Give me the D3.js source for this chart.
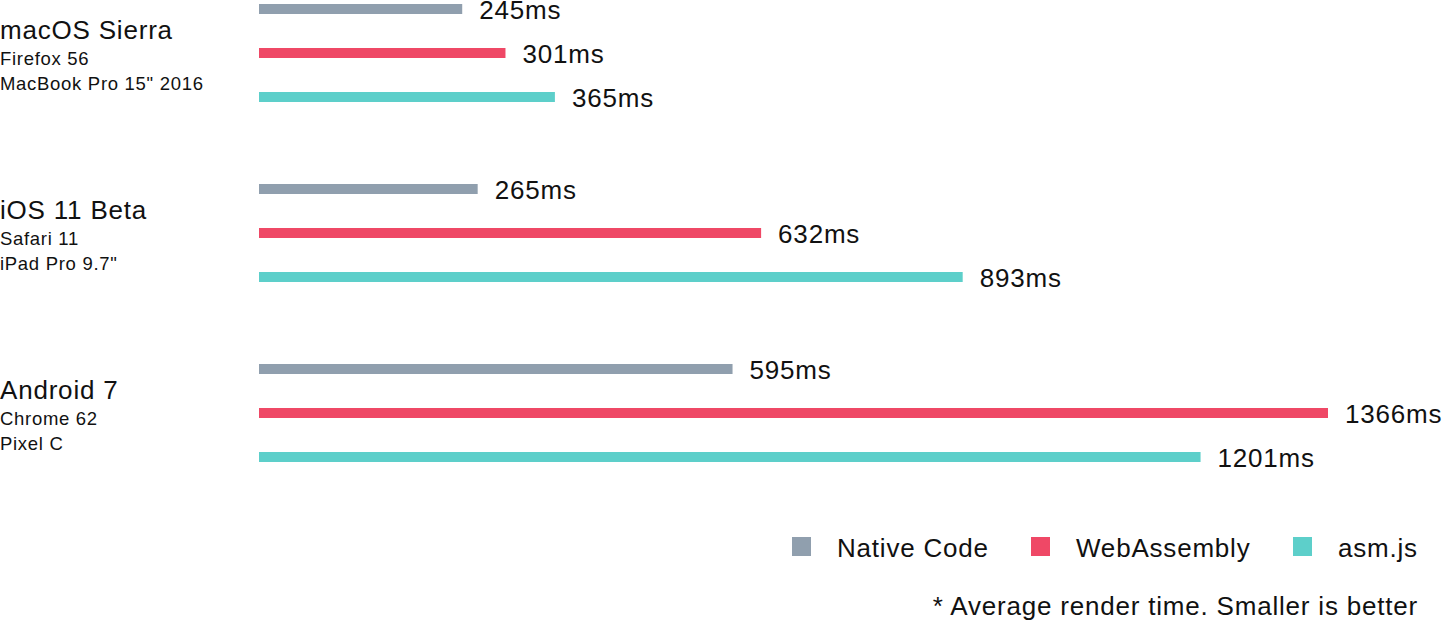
<!DOCTYPE html>
<html>
<head>
<meta charset="utf-8">
<script src="https://cdn.jsdelivr.net/npm/d3@7"></script>
<style>
  html, body { margin: 0; padding: 0; background: #fff; }
  svg text { font-family: "Liberation Sans", Arial, Helvetica, sans-serif; fill: #111; }
  .big { font-size: 26px; letter-spacing: 0.8px; }
  .detail { font-size: 18.5px; letter-spacing: 0.7px; }
</style>
</head>
<body>
<div id="chart"></div>
<script>
// Donnees
const platforms = ["macOS Sierra", "iOS 11 Beta", "Android 7"];
const platformDetails = [
    ["Firefox 56", "MacBook Pro 15\" 2016"],
    ["Safari 11", "iPad Pro 9.7\""],
    ["Chrome 62", "Pixel C"]
];
const seriesNames = ["Native Code", "WebAssembly", "asm.js"];
const seriesColors = ["#909fae", "#ef4866", "#5dcfca"];
const nativeValues = [245, 265, 595];
const wasmValues = [301, 632, 1366];
const asmValues = [365, 893, 1201];
const footnote = "* Average render time. Smaller is better";

(function() {
    const width = 1454;
    const height = 624;
    const barHeight = 10;
    const barLead = 14; // la barre commence un peu avant le zero

    const values = [nativeValues, wasmValues, asmValues];

    const svg = d3.select("#chart")
        .append("svg")
        .attr("width", width)
        .attr("height", height);

    // Echelles
    const x = d3.scaleLinear()
        .domain([0, d3.max(values.flat())])
        .range([273, 1328]);

    const yGroup = d3.scalePoint()
        .domain(platforms)
        .range([53, 413]);

    const ySeries = d3.scalePoint()
        .domain(seriesNames)
        .range([-44, 44]);

    const groups = svg.selectAll(".group")
        .data(platforms)
        .enter()
        .append("g")
        .attr("class", "group")
        .attr("transform", p => `translate(0,${yGroup(p)})`);

    // Titres des plateformes
    groups.append("text")
        .attr("class", "big")
        .attr("x", 0)
        .attr("y", -14)
        .text(p => p);

    groups.each(function(p, i) {
        d3.select(this).selectAll(".detail")
            .data(platformDetails[i])
            .enter()
            .append("text")
            .attr("class", "detail")
            .attr("x", 0)
            .attr("y", (d, j) => 12 + j * 25)
            .text(d => d);
    });

    // Barres + valeurs
    groups.each(function(p, i) {
        const g = d3.select(this);
        const rows = seriesNames.map((s, k) => ({ serie: s, value: values[k][i], color: seriesColors[k] }));

        g.selectAll(".bar")
            .data(rows)
            .enter()
            .append("rect")
            .attr("class", "bar")
            .attr("x", x(0) - barLead)
            .attr("y", d => ySeries(d.serie) - barHeight / 2)
            .attr("width", d => x(d.value) - x(0) + barLead)
            .attr("height", barHeight)
            .attr("fill", d => d.color);

        g.selectAll(".value")
            .data(rows)
            .enter()
            .append("text")
            .attr("class", "value big")
            .attr("x", d => x(d.value) + 17)
            .attr("y", d => ySeries(d.serie) + 10)
            .text(d => d.value + "ms");
    });

    // Legende
    const legendX = [792, 1031, 1293];
    const legend = svg.append("g").attr("class", "legend");
    const items = legend.selectAll(".legend-item")
        .data(seriesNames)
        .enter()
        .append("g")
        .attr("class", "legend-item")
        .attr("transform", (d, i) => `translate(${legendX[i]},537)`);

    items.append("rect")
        .attr("width", 19)
        .attr("height", 19)
        .attr("fill", (d, i) => seriesColors[i]);

    items.append("text")
        .attr("class", "big")
        .attr("x", 45)
        .attr("y", 20)
        .text(d => d);

    svg.append("text")
        .attr("class", "big")
        .attr("x", 1418)
        .attr("y", 615)
        .attr("text-anchor", "end")
        .text(footnote);
})();
</script>
</body>
</html>
